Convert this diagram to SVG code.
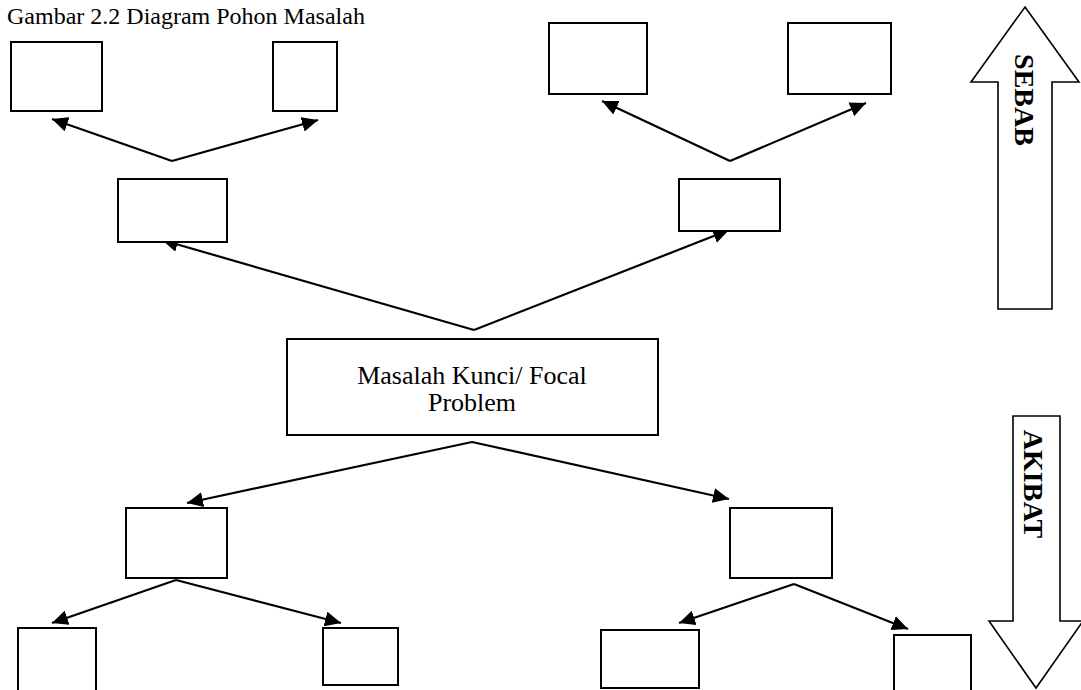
<svg xmlns="http://www.w3.org/2000/svg" width="1081" height="690" viewBox="0 0 1081 690">
  <style>
    .box { fill: #ffffff; stroke: #000000; stroke-width: 2; }
    .conn { fill: none; stroke: #000000; stroke-width: 2.2; }
    .big { fill: #ffffff; stroke: #000000; stroke-width: 1.6; stroke-linejoin: miter; }
    .t { font-family: "Liberation Serif", "Times New Roman", serif; fill: #000000; }
    .vt { font-family: "Liberation Serif", "Times New Roman", serif; font-weight: bold; font-size: 28px; fill: #000000; }
  </style>
  <defs>
    <marker id="ah" markerUnits="userSpaceOnUse" markerWidth="17" markerHeight="15" refX="16" refY="7.5" orient="auto">
      <path d="M0,0 L16,7.5 L0,15 z" fill="#000000"/>
    </marker>
  </defs>
  <rect width="1081" height="690" fill="#ffffff"/>

  <text class="t" x="7" y="24" font-size="24">Gambar 2.2 Diagram Pohon Masalah</text>

  <g id="connectors">
    <line class="conn" x1="172" y1="161" x2="52" y2="119" marker-end="url(#ah)"/>
    <line class="conn" x1="172" y1="161" x2="318" y2="120" marker-end="url(#ah)"/>
    <line class="conn" x1="730" y1="161" x2="602" y2="101" marker-end="url(#ah)"/>
    <line class="conn" x1="730" y1="161" x2="866" y2="103" marker-end="url(#ah)"/>
    <line class="conn" x1="474" y1="330" x2="162" y2="240" marker-end="url(#ah)"/>
    <line class="conn" x1="474" y1="330" x2="729" y2="230" marker-end="url(#ah)"/>
    <line class="conn" x1="472" y1="442" x2="187" y2="503" marker-end="url(#ah)"/>
    <line class="conn" x1="472" y1="442" x2="729" y2="499" marker-end="url(#ah)"/>
    <line class="conn" x1="176" y1="580" x2="52" y2="623" marker-end="url(#ah)"/>
    <line class="conn" x1="176" y1="580" x2="341" y2="623" marker-end="url(#ah)"/>
    <line class="conn" x1="794" y1="584" x2="679" y2="623" marker-end="url(#ah)"/>
    <line class="conn" x1="794" y1="584" x2="908" y2="629" marker-end="url(#ah)"/>
  </g>

  <g id="cause-l1a"><rect class="box" x="11" y="42" width="91" height="69"/></g>
  <g id="cause-l1b"><rect class="box" x="273" y="42" width="64" height="69"/></g>
  <g id="cause-r1a"><rect class="box" x="549" y="23" width="98" height="71"/></g>
  <g id="cause-r1b"><rect class="box" x="788" y="23" width="103" height="71"/></g>
  <g id="cause-l2"><rect class="box" x="118" y="179" width="109" height="63"/></g>
  <g id="cause-r2"><rect class="box" x="679" y="179" width="101" height="52"/></g>

  <g id="focal">
    <rect class="box" x="287" y="339" width="371" height="96"/>
    <text class="t" x="472" y="384" font-size="26" text-anchor="middle">Masalah Kunci/ Focal</text>
    <text class="t" x="472" y="411" font-size="26" text-anchor="middle">Problem</text>
  </g>

  <g id="effect-l1"><rect class="box" x="126" y="508" width="101" height="70"/></g>
  <g id="effect-r1"><rect class="box" x="730" y="508" width="102" height="70"/></g>
  <g id="effect-l2a"><rect class="box" x="18" y="628" width="78" height="64"/></g>
  <g id="effect-l2b"><rect class="box" x="323" y="628" width="75" height="57"/></g>
  <g id="effect-r2a"><rect class="box" x="601" y="630" width="98" height="58"/></g>
  <g id="effect-r2b"><rect class="box" x="894" y="635" width="77" height="60"/></g>

  <g id="sebab">
    <polygon class="big" points="1025,7 1079,82 1052,82 1052,309 998,309 998,82 971,82"/>
    <text class="vt" transform="translate(1024,100) rotate(90)" text-anchor="middle" dominant-baseline="central">SEBAB</text>
  </g>
  <g id="akibat">
    <polygon class="big" points="1013,416 1060,416 1060,621 1083,621 1036,688 989,621 1013,621"/>
    <text class="vt" transform="translate(1033,484) rotate(90)" text-anchor="middle" dominant-baseline="central">AKIBAT</text>
  </g>
</svg>
